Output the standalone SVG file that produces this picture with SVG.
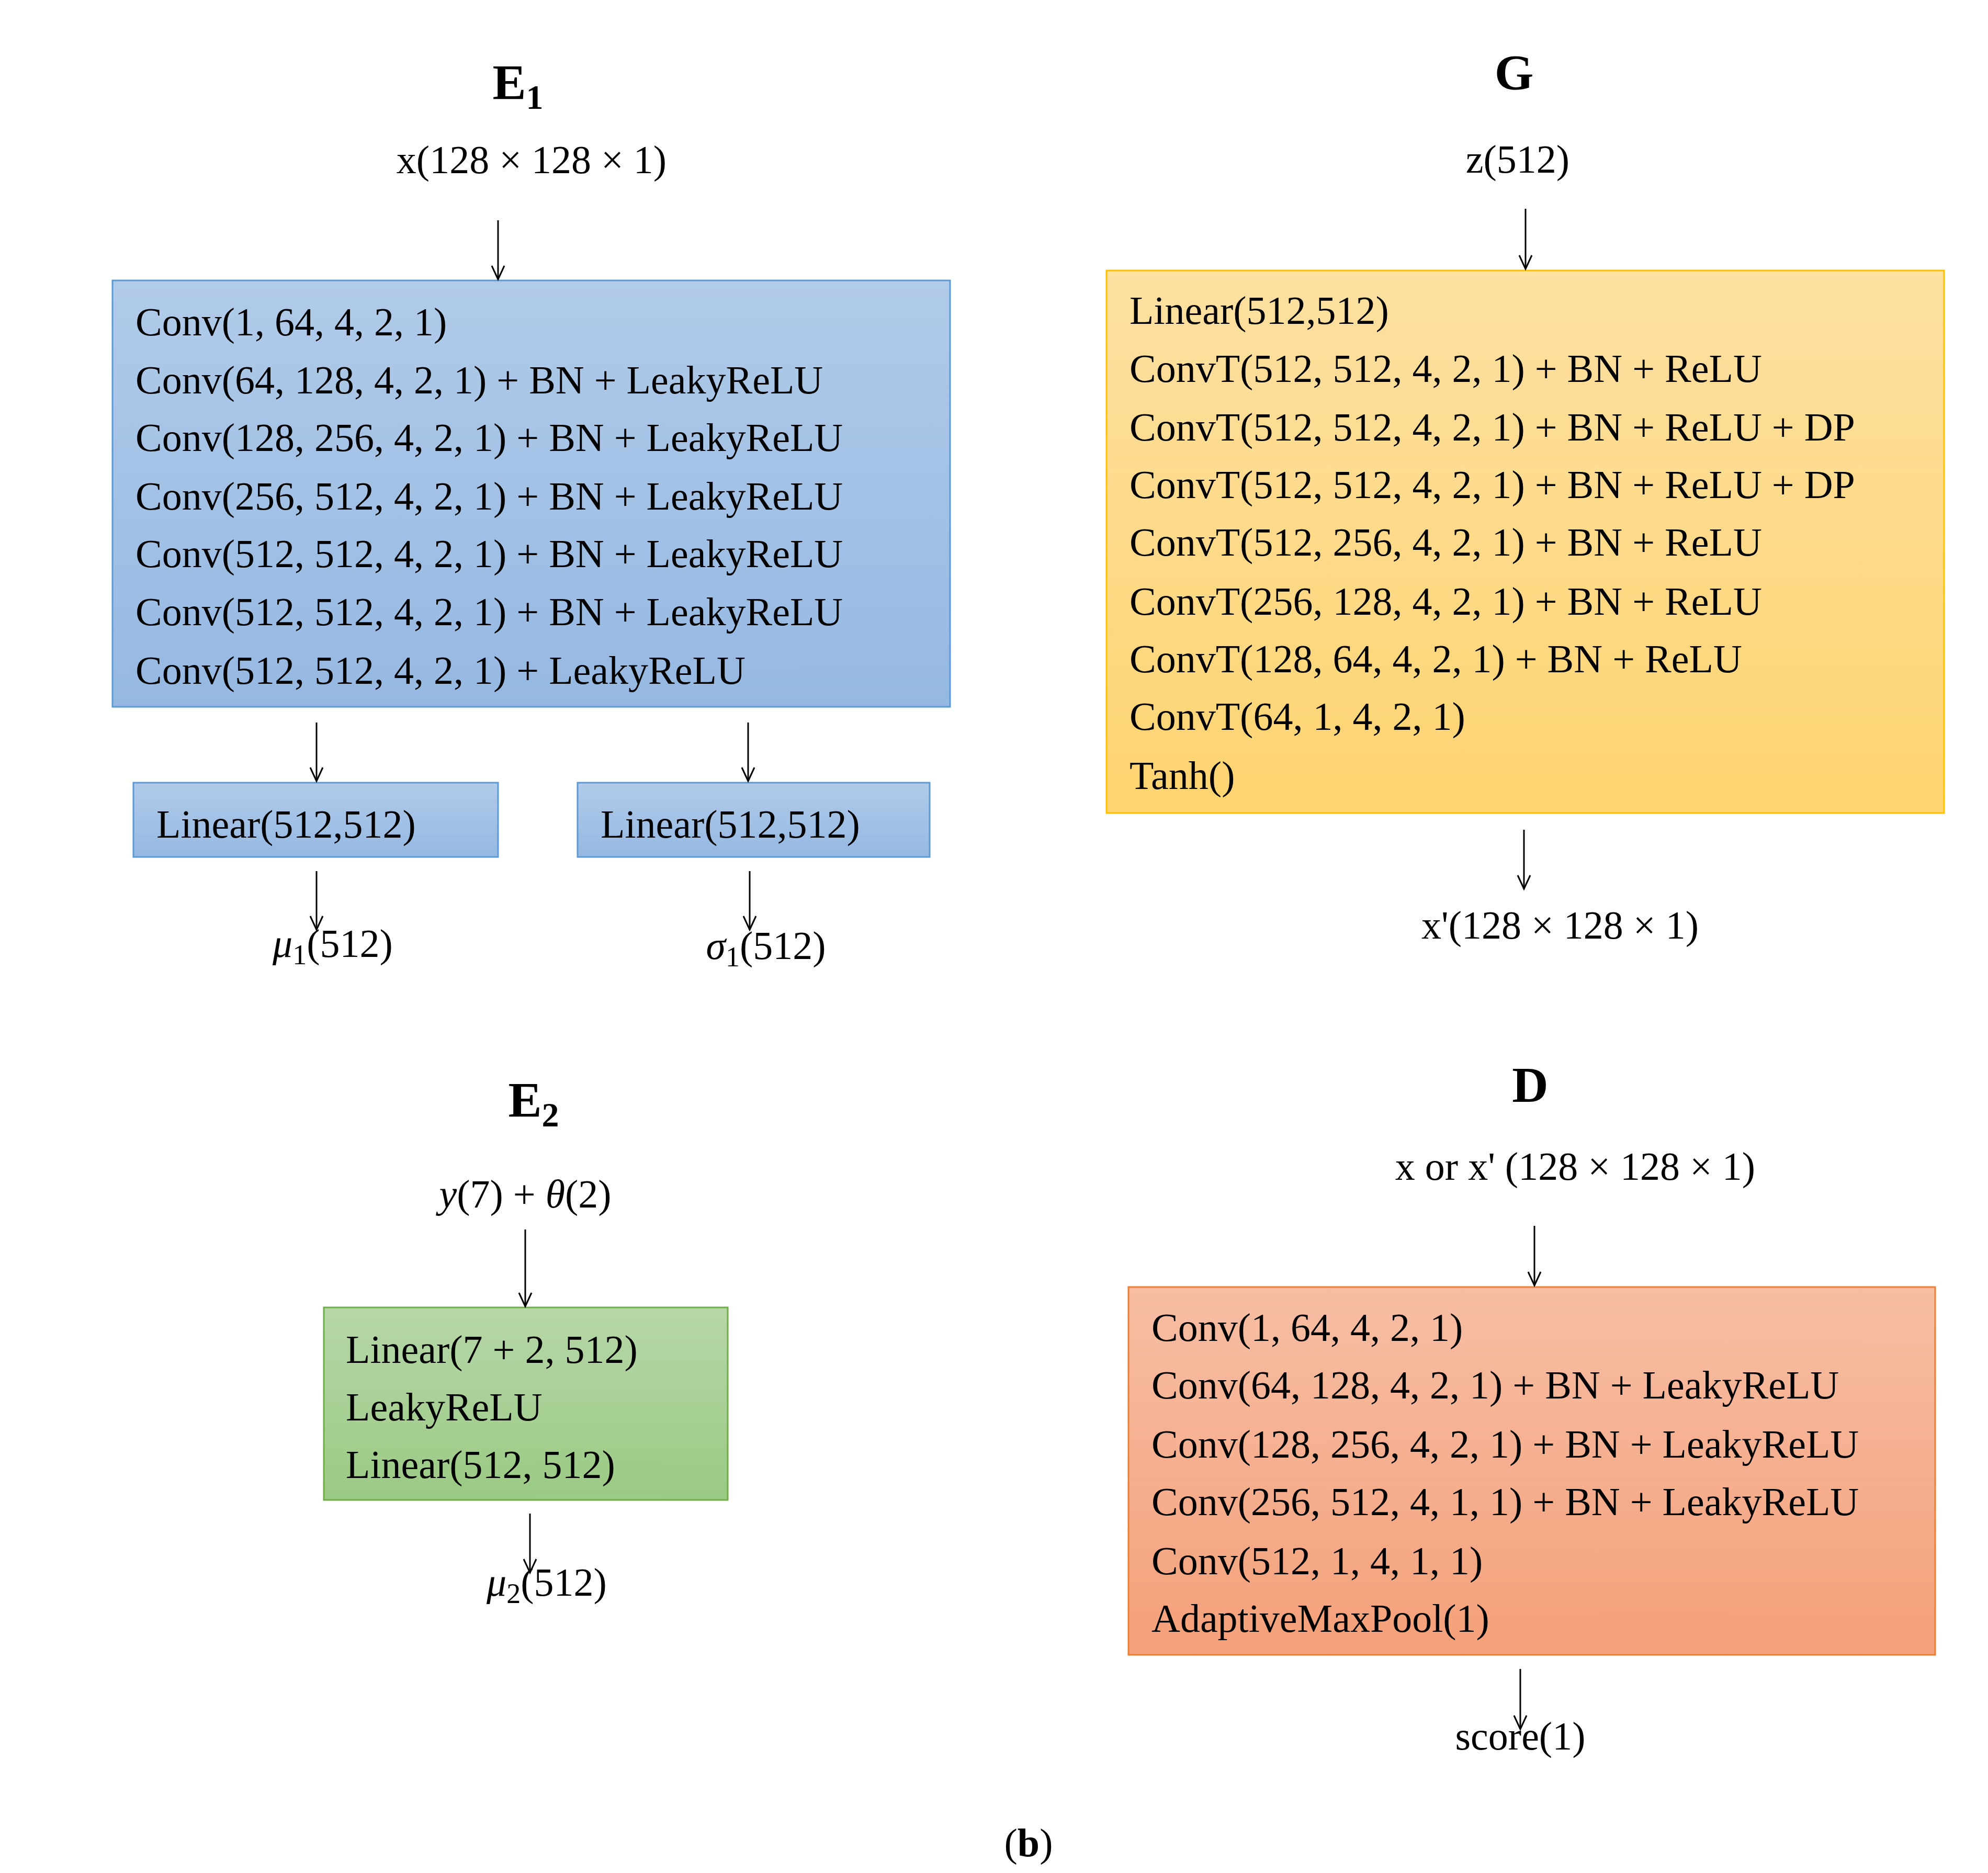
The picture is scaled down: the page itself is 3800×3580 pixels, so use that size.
<svg xmlns="http://www.w3.org/2000/svg" width="3800" height="3580" viewBox="0 0 3800 3580">
<defs>
<linearGradient id="gb" x1="0" y1="0" x2="0" y2="1"><stop offset="0" stop-color="#b1cbe9"/><stop offset="1" stop-color="#95b8e2"/></linearGradient>
<linearGradient id="go" x1="0" y1="0" x2="0" y2="1"><stop offset="0" stop-color="#fde0a2"/><stop offset="1" stop-color="#fed470"/></linearGradient>
<linearGradient id="gg" x1="0" y1="0" x2="0" y2="1"><stop offset="0" stop-color="#b6d7a8"/><stop offset="1" stop-color="#9bca84"/></linearGradient>
<linearGradient id="gr" x1="0" y1="0" x2="0" y2="1"><stop offset="0" stop-color="#f7bea4"/><stop offset="1" stop-color="#f4a079"/></linearGradient>
<marker id="ah" markerWidth="12" markerHeight="12" refX="6" refY="11" orient="auto-start-reverse" viewBox="0 0 12 12" markerUnits="userSpaceOnUse">
</marker>
</defs>
<style>
text{font-family:"Liberation Serif",serif;font-size:76px;fill:#000}
.t{font-weight:bold;font-size:96px}
.m{text-anchor:middle}
.c line{stroke:#000;stroke-width:3}
.c polyline{fill:none;stroke:#000;stroke-width:3}
</style>
<rect width="3800" height="3580" fill="#fff"/>

<g id="E1">
<text class="t m" x="990" y="190">E<tspan font-size="66" dy="18">1</tspan></text>
<text class="m" x="1016" y="331">x(128 × 128 × 1)</text>
<rect x="215" y="536" width="1601" height="815" fill="url(#gb)" stroke="#5b9bd5" stroke-width="3"/>
<text x="259" y="641">Conv(1, 64, 4, 2, 1)</text>
<text x="259" y="752">Conv(64, 128, 4, 2, 1) + BN + LeakyReLU</text>
<text x="259" y="862">Conv(128, 256, 4, 2, 1) + BN + LeakyReLU</text>
<text x="259" y="974">Conv(256, 512, 4, 2, 1) + BN + LeakyReLU</text>
<text x="259" y="1084">Conv(512, 512, 4, 2, 1) + BN + LeakyReLU</text>
<text x="259" y="1195">Conv(512, 512, 4, 2, 1) + BN + LeakyReLU</text>
<text x="259" y="1307">Conv(512, 512, 4, 2, 1) + LeakyReLU</text>
</g>
<g id="E1mu">
<rect x="255" y="1496" width="697" height="142" fill="url(#gb)" stroke="#5b9bd5" stroke-width="3"/>
<text x="299" y="1601">Linear(512,512)</text>
<text class="m" x="636" y="1829"><tspan font-style="italic">μ</tspan><tspan font-size="54" dy="14">1</tspan><tspan dy="-14">(512)</tspan></text>
</g>
<g id="E1sigma">
<rect x="1104" y="1496" width="673" height="142" fill="url(#gb)" stroke="#5b9bd5" stroke-width="3"/>
<text x="1148" y="1601">Linear(512,512)</text>
<text class="m" x="1464" y="1833"><tspan font-style="italic">σ</tspan><tspan font-size="54" dy="14">1</tspan><tspan dy="-14">(512)</tspan></text>
</g>

<g id="G">
<text class="t m" x="2894" y="171">G</text>
<text class="m" x="2901" y="330">z(512)</text>
<rect x="2115" y="517" width="1601" height="1037" fill="url(#go)" stroke="#ffc000" stroke-width="3"/>
<text x="2159" y="619">Linear(512,512)</text>
<text x="2159" y="730">ConvT(512, 512, 4, 2, 1) + BN + ReLU</text>
<text x="2159" y="842">ConvT(512, 512, 4, 2, 1) + BN + ReLU + DP</text>
<text x="2159" y="952">ConvT(512, 512, 4, 2, 1) + BN + ReLU + DP</text>
<text x="2159" y="1062">ConvT(512, 256, 4, 2, 1) + BN + ReLU</text>
<text x="2159" y="1175">ConvT(256, 128, 4, 2, 1) + BN + ReLU</text>
<text x="2159" y="1285">ConvT(128, 64, 4, 2, 1) + BN + ReLU</text>
<text x="2159" y="1395">ConvT(64, 1, 4, 2, 1)</text>
<text x="2159" y="1508">Tanh()</text>
<text class="m" x="2982" y="1794">x'(128 × 128 × 1)</text>
</g>

<g id="E2">
<text class="t m" x="1020" y="2135">E<tspan font-size="66" dy="18">2</tspan></text>
<text class="m" x="1004" y="2308"><tspan font-style="italic">y</tspan>(7) + <tspan font-style="italic">θ</tspan>(2)</text>
<rect x="619" y="2499" width="772" height="368" fill="url(#gg)" stroke="#70ad47" stroke-width="3"/>
<text x="661" y="2605">Linear(7 + 2, 512)</text>
<text x="661" y="2715">LeakyReLU</text>
<text x="661" y="2825">Linear(512, 512)</text>
<text class="m" x="1045" y="3050"><tspan font-style="italic">μ</tspan><tspan font-size="54" dy="14">2</tspan><tspan dy="-14">(512)</tspan></text>
</g>

<g id="D">
<text class="t m" x="2925" y="2106">D</text>
<text class="m" x="3011" y="2255">x or x' (128 × 128 × 1)</text>
<rect x="2157" y="2460" width="1542" height="703" fill="url(#gr)" stroke="#ed7d31" stroke-width="3"/>
<text x="2201" y="2563">Conv(1, 64, 4, 2, 1)</text>
<text x="2201" y="2673">Conv(64, 128, 4, 2, 1) + BN + LeakyReLU</text>
<text x="2201" y="2786">Conv(128, 256, 4, 2, 1) + BN + LeakyReLU</text>
<text x="2201" y="2896">Conv(256, 512, 4, 1, 1) + BN + LeakyReLU</text>
<text x="2201" y="3009">Conv(512, 1, 4, 1, 1)</text>
<text x="2201" y="3119">AdaptiveMaxPool(1)</text>
<text class="m" x="2906" y="3344">score(1)</text>
</g>

<text class="m" x="1966" y="3548" font-size="72"><tspan>(</tspan><tspan font-weight="bold">b</tspan><tspan>)</tspan></text>

<g id="connectors" class="c">
<line x1="952" y1="421" x2="952" y2="534"/><polyline points="940,508 952,534 964,508"/>
<line x1="605" y1="1381" x2="605" y2="1493"/><polyline points="593,1467 605,1493 617,1467"/>
<line x1="1430" y1="1381" x2="1430" y2="1493"/><polyline points="1418,1467 1430,1493 1442,1467"/>
<line x1="605" y1="1665" x2="605" y2="1777"/><polyline points="593,1751 605,1777 617,1751"/>
<line x1="1433" y1="1665" x2="1433" y2="1777"/><polyline points="1421,1751 1433,1777 1445,1751"/>
<line x1="2916" y1="399" x2="2916" y2="514"/><polyline points="2904,488 2916,514 2928,488"/>
<line x1="2913" y1="1586" x2="2913" y2="1699"/><polyline points="2901,1673 2913,1699 2925,1673"/>
<line x1="1004" y1="2350" x2="1004" y2="2497"/><polyline points="992,2471 1004,2497 1016,2471"/>
<line x1="1013" y1="2893" x2="1013" y2="3006"/><polyline points="1001,2980 1013,3006 1025,2980"/>
<line x1="2933" y1="2343" x2="2933" y2="2457"/><polyline points="2921,2431 2933,2457 2945,2431"/>
<line x1="2906" y1="3190" x2="2906" y2="3305"/><polyline points="2894,3279 2906,3305 2918,3279"/>
</g>
</svg>
